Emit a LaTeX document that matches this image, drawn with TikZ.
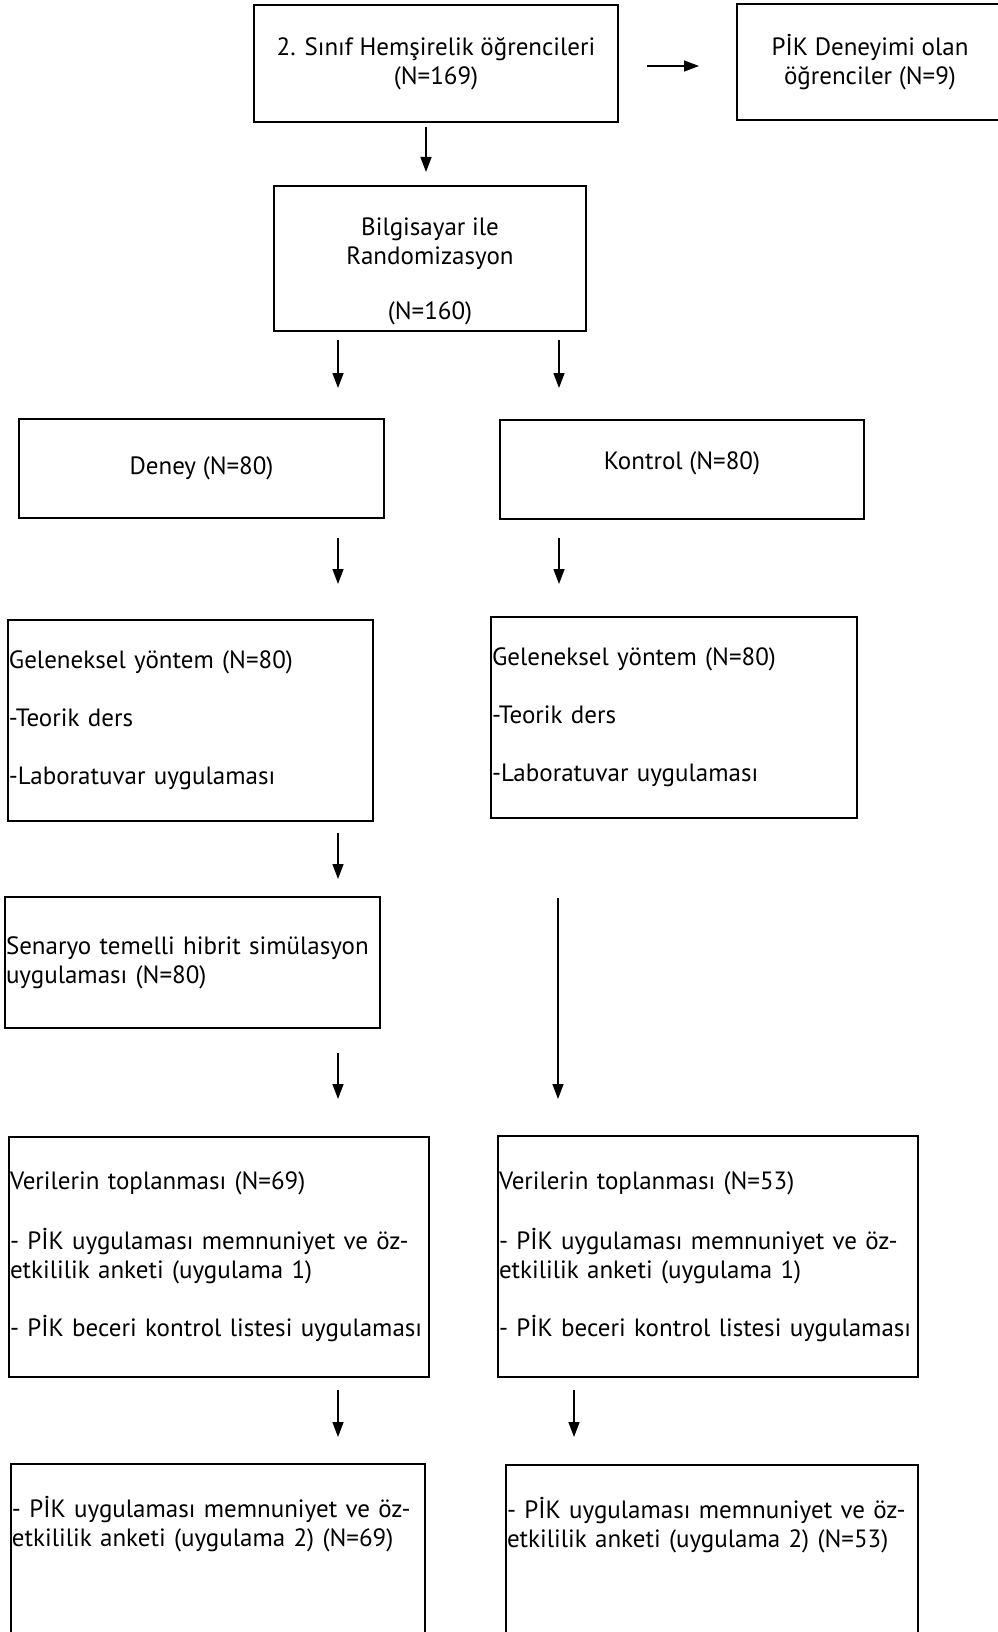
\documentclass[tikz,border=0pt]{standalone}
\usepackage{fontspec}
\setmainfont{PT Sans}
\usetikzlibrary{arrows.meta}
\newcommand\myboxfont{\fontsize{25}{29}\selectfont\hyphenpenalty=10000\relax\exhyphenpenalty=10000\relax}
\tikzset{
  box/.style={draw=black, line width=1.1pt, inner sep=1pt, font=\myboxfont},
  cbox/.style={box, align=center},
  lbox/.style={box, align=left},
  arr/.style={line width=1.4pt, -{Triangle[length=15pt,width=11pt]}}
}
\begin{document}
\begin{tikzpicture}[x=1pt,y=-1pt]
\useasboundingbox (0,0) rectangle (997,1632);
% boxes
\node[cbox, minimum width=364pt, minimum height=117pt] (top) at (436,63.5) {2. Sınıf Hemşirelik öğrencileri\\(N=169)};
\node[cbox, minimum width=266pt, minimum height=116pt] (pik) at (870,62) {PİK Deneyimi olan\\öğrenciler (N=9)};
\node[box, minimum width=312pt, minimum height=145pt] (rand) at (430,258.5) {\raisebox{-19pt}[0pt][0pt]{\begin{tabular}{@{}c@{}}Bilgisayar ile\\Randomizasyon\\[26pt](N=160)\end{tabular}}};
\node[cbox, minimum width=365pt, minimum height=99pt] (deney) at (201.5,468.5) {Deney (N=80)};
\node[cbox, minimum width=364pt, minimum height=99pt, text depth=18pt] (kontrol) at (682,469.5) {Kontrol (N=80)};
\node[lbox, text width=363pt, minimum height=201pt] (gelL) at (190.5,720.5) {Geleneksel yöntem (N=80)\\[29pt]-Teorik ders\\[29pt]-Laboratuvar uygulaması};
\node[lbox, text width=364pt, minimum height=201pt] (gelR) at (674,717.5) {Geleneksel yöntem (N=80)\\[29pt]-Teorik ders\\[29pt]-Laboratuvar uygulaması};
\node[lbox, text width=373pt, minimum height=131pt] (sen) at (192.5,962.5) {Senaryo temelli hibrit simülasyon\\uygulaması (N=80)};
\node[lbox, text width=418pt, minimum height=240pt] (verL) at (219,1257) {Verilerin toplanması (N=69)\\[31pt]- PİK uygulaması memnuniyet ve öz-\\etkililik anketi (uygulama 1)\\[29pt]- PİK beceri kontrol listesi uygulaması};
\node[lbox, text width=418pt, minimum height=241pt] (verR) at (708,1256.5) {Verilerin toplanması (N=53)\\[31pt]- PİK uygulaması memnuniyet ve öz-\\etkililik anketi (uygulama 1)\\[29pt]- PİK beceri kontrol listesi uygulaması};
\node[lbox, text width=412pt, minimum height=180pt] (finL) at (218,1554) {- PİK uygulaması memnuniyet ve öz-\\etkililik anketi (uygulama 2) (N=69)\\[7pt]\mbox{}\\\mbox{}};
\node[lbox, text width=410pt, minimum height=180pt] (finR) at (712,1555) {- PİK uygulaması memnuniyet ve öz-\\etkililik anketi (uygulama 2) (N=53)\\[7pt]\mbox{}\\\mbox{}};
% arrow end points
\coordinate (a0s) at (647,66);   \coordinate (a0e) at (699,66);
\coordinate (a1s) at (426,127);  \coordinate (a1e) at (426,172);
\coordinate (a2s) at (338,340);  \coordinate (a2e) at (338,388);
\coordinate (a3s) at (559,340);  \coordinate (a3e) at (559,388);
\coordinate (a4s) at (338,538);  \coordinate (a4e) at (338,584);
\coordinate (a5s) at (559,538);  \coordinate (a5e) at (559,584);
\coordinate (a6s) at (338,833);  \coordinate (a6e) at (338,879);
\coordinate (a7s) at (558,898);  \coordinate (a7e) at (558,1099);
\coordinate (a8s) at (338,1053); \coordinate (a8e) at (338,1099);
\coordinate (a9s) at (338,1390); \coordinate (a9e) at (338,1437);
\coordinate (a10s) at (574,1390); \coordinate (a10e) at (574,1437);
\draw[arr] (a0s) -- (a0e);
\draw[arr] (a1s) -- (a1e);
\draw[arr] (a2s) -- (a2e);
\draw[arr] (a3s) -- (a3e);
\draw[arr] (a4s) -- (a4e);
\draw[arr] (a5s) -- (a5e);
\draw[arr] (a6s) -- (a6e);
\draw[arr] (a7s) -- (a7e);
\draw[arr] (a8s) -- (a8e);
\draw[arr] (a9s) -- (a9e);
\draw[arr] (a10s) -- (a10e);
\end{tikzpicture}
\end{document}
